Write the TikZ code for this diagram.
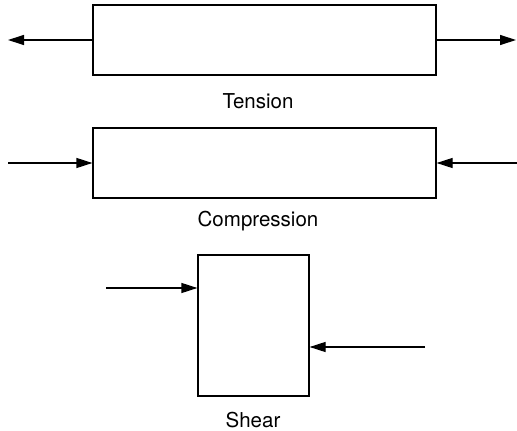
\documentclass[tikz,border=0pt]{standalone}
\usepackage{fontspec}
\setmainfont{TeX Gyre Heros}
\usetikzlibrary{arrows.meta, positioning}

\begin{document}
\begin{tikzpicture}[x=1pt, y=-1pt, line width=1.2pt,
  member/.style={draw, rectangle, inner sep=0pt},
  load/.style={-{Triangle[length=16pt, width=10pt]}},
  caption/.style={font=\fontsize{20.5}{24}\selectfont}]
\useasboundingbox (0,0) rectangle (517,431);

% tension
\node[member, minimum width=343pt, minimum height=70pt] (T) at (264.5,40) {};
\coordinate (TL) at (8,40);
\coordinate (TR) at (516,40);
\draw[load] (T.west) -- (TL);
\draw[load] (T.east) -- (TR);
\node[caption] (Tlab) at (258,101) {Tension};

% compression
\node[member, minimum width=343pt, minimum height=70pt] (C) at (264.5,163) {};
\coordinate (CL) at (8,163);
\coordinate (CR) at (517,163);
\draw[load] (CL) -- (C.west);
\draw[load] (CR) -- (C.east);
\node[caption] (Clab) at (258,221) {Compression};

% shear
\node[member, minimum width=111pt, minimum height=141pt] (S) at (253.5,325.5) {};
\coordinate (SL) at (106,288);
\coordinate (SR) at (425,347);
\draw[load] (SL) -- (S.west |- SL);
\draw[load] (SR) -- (S.east |- SR);
\node[caption] (Slab) at (253,420) {Shear};
\end{tikzpicture}
\end{document}
